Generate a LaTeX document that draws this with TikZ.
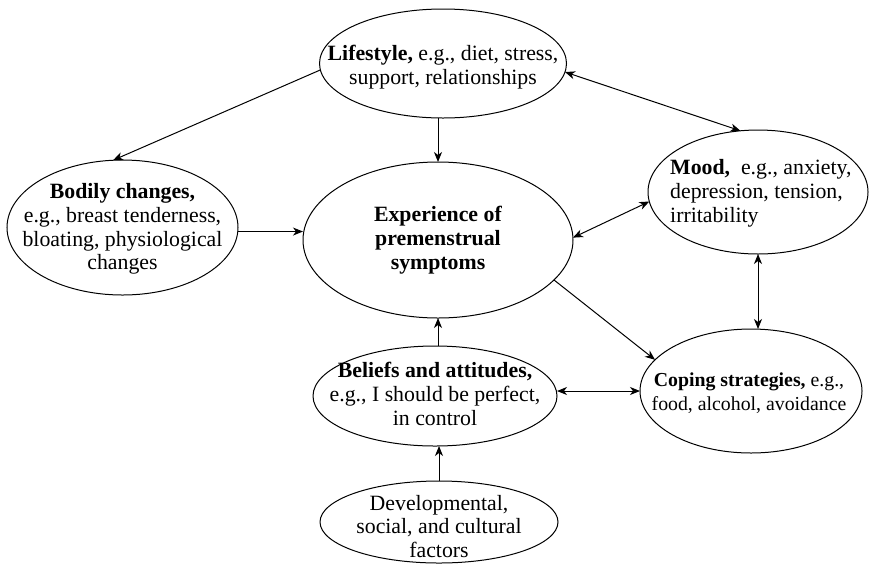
\documentclass[tikz,border=0pt]{standalone}
\usepackage{fontspec}
\setmainfont{Liberation Serif}
\usetikzlibrary{shapes.geometric,arrows.meta}
\begin{document}
\begin{tikzpicture}[x=1pt,y=-1pt,
  ell/.style={draw, ellipse, line width=1pt, inner sep=0pt, outer sep=0pt},
  txt/.style={inner sep=0pt, align=center, font=\fontsize{21.8}{23.8}\selectfont},
  smalltxt/.style={txt, font=\fontsize{19.8}{23.8}\selectfont},
  arr/.style={line width=1pt, -{Stealth[length=10pt,width=8pt,inset=3pt]}},
  darr/.style={line width=1pt, {Stealth[length=10pt,width=8pt,inset=3pt]}-{Stealth[length=10pt,width=8pt,inset=3pt]}}]
\useasboundingbox (0,0) rectangle (869,563);
% ellipses
\node[ell, minimum width=247pt, minimum height=109pt] (life) at (443,63.5) {};
\node[ell, minimum width=231pt, minimum height=135pt] (body) at (122.5,227.5) {};
\node[ell, minimum width=270pt, minimum height=156pt] (exp) at (438,240) {};
\node[ell, minimum width=220pt, minimum height=124pt] (mood) at (758,192) {};
\node[ell, minimum width=222pt, minimum height=124pt] (cop) at (751,391) {};
\node[ell, minimum width=244pt, minimum height=100pt] (bel) at (435,396) {};
\node[ell, minimum width=238pt, minimum height=82pt] (dev) at (439,522) {};
% texts
\node[txt] (lifet) at (443,67) {\textbf{Lifestyle,} e.g., diet, stress,\\ support, relationships};
\node[txt] (bodyt) at (122.5,229) {\textbf{Bodily changes,}\\ e.g., breast tenderness,\\ bloating, physiological\\ changes};
\node[txt] (expt) at (438,240) {\textbf{Experience of}\\ \textbf{premenstrual}\\ \textbf{symptoms}};
\node[txt, align=left, anchor=west] (moodt) at (670,193) {\textbf{Mood,}\ \ e.g., anxiety,\\ depression, tension,\\ irritability};
\node[smalltxt] (copt) at (749,393) {\textbf{Coping strategies,} e.g.,\\ food, alcohol, avoidance};
\node[txt] (belt) at (435,394) {\textbf{Beliefs and attitudes,}\\ e.g., I should be perfect,\\ in control};
\node[txt] (devt) at (439,526.5) {Developmental,\\ social, and cultural\\ factors};
% connectors
\draw[arr] (life.183) -- (body.98);
\draw[arr] (exp.north |- life.south) -- (exp.north);
\draw[darr] (life.-4) -- (mood.106);
\draw[arr] (body.-2) -- (body.-2 -| exp.west);
\draw[darr] (exp.1) -- (mood.185);
\draw[darr] (mood.south) -- (mood.south |- cop.north);
\draw[arr] (exp.-19) -- (cop.162);
\draw[darr] (bel.east |- cop.west) -- (cop.west);
\draw[arr] (exp.south |- bel.north) -- (exp.south);
\draw[arr] (dev.north) -- (dev.north |- bel.south);
\end{tikzpicture}
\end{document}
